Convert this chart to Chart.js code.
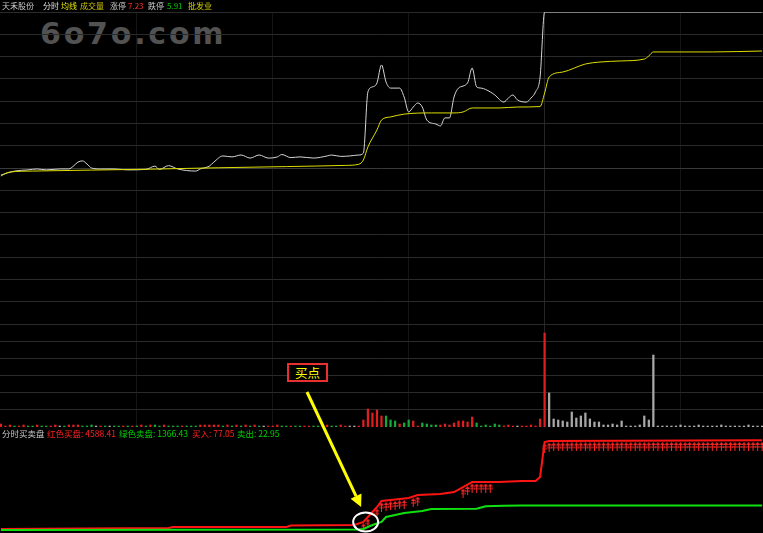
<!DOCTYPE html>
<html><head><meta charset="utf-8">
<script src="https://cdn.jsdelivr.net/npm/chart.js@4.4.1/dist/chart.umd.min.js"></script>
<style>
html,body{margin:0;padding:0;background:#000;}
#wrap{position:relative;width:763px;height:533px;overflow:hidden;background:#000;font-family:"Noto Sans CJK SC","Noto Sans",sans-serif;}
canvas{position:absolute;left:0;top:0;}
.t{position:absolute;font-size:8px;line-height:11px;white-space:nowrap;}
.b{position:absolute;font-size:8.5px;line-height:11px;white-space:nowrap;}
#wm{position:absolute;left:40px;top:19px;font-family:"DejaVu Sans",sans-serif;font-weight:bold;font-size:30px;line-height:30px;letter-spacing:2.8px;color:#525252;white-space:nowrap;}
#buyBox{position:absolute;left:287px;top:363px;width:37px;height:15px;border:2px solid #e83030;color:#ffff00;font-size:12.5px;line-height:15px;text-align:center;background:#000;}
</style></head>
<body><div id="wrap">
<div id="wm">6o7o.com</div>
<canvas id="cTop" width="763" height="533"></canvas>
<canvas id="cVol" width="763" height="533"></canvas>
<canvas id="cBS" width="763" height="533"></canvas>
<span class="t" style="left:2px;top:0;color:#c8c8c8">天禾股份</span>
<span class="t" style="left:43px;top:0;color:#e0e0e0">分时</span>
<span class="t" style="left:61px;top:0;color:#e6e600">均线</span>
<span class="t" style="left:80px;top:0;color:#c8c000">成交量</span>
<span class="t" style="left:110px;top:0;color:#c8c8c8">涨停</span>
<span class="t" style="left:128px;top:0;color:#ff3030">7.23</span>
<span class="t" style="left:148px;top:0;color:#c8c8c8">跌停</span>
<span class="t" style="left:167px;top:0;color:#00c800">5.91</span>
<span class="t" style="left:188px;top:0;color:#d8d800">批发业</span>
<span class="b" style="left:2px;top:428px;color:#c8c8c8">分时买卖盘</span>
<span class="b" style="left:47px;top:428px;color:#ff2020">红色买盘: 4588.41</span>
<span class="b" style="left:119px;top:428px;color:#00d000">绿色卖盘: 1366.43</span>
<span class="b" style="left:192px;top:428px;color:#ff2020">买入: 77.05</span>
<span class="b" style="left:237px;top:428px;color:#00d000">卖出: 22.95</span>
<div id="buyBox">买点</div>
</div>
<script>
// ---------- DATA ----------
const limitUp = 7.23, limitDown = 5.91;
const prevClose = (limitUp + limitDown) / 2;
const vGridMinutes = [30, 60, 90, 120, 150];

const priceMinutes = [0,3,6,8,10,13,15,16,17,18,19,20,22,25,28,32,34,35,37,39,43,44,46,47,49,51,53,55,57,59,61,62,64,66,69,72,73,75,77,79,80,81,82,83,84,85,86,88,89,90,91,92,93,94,96,97,98,99,100,101,103,104,105,106,108,109,111,112,113,114,116,117,118,119,120,168];
const prices = [6.540,6.557,6.562,6.566,6.562,6.566,6.566,6.578,6.595,6.600,6.587,6.570,6.566,6.566,6.562,6.564,6.578,6.564,6.580,6.566,6.557,6.566,6.578,6.595,6.621,6.617,6.625,6.612,6.625,6.612,6.617,6.627,6.614,6.617,6.612,6.621,6.625,6.619,6.621,6.625,6.633,6.892,6.913,6.930,7.006,6.934,6.908,6.908,6.870,6.807,6.828,6.845,6.828,6.773,6.756,6.748,6.782,6.782,6.870,6.908,6.930,6.993,6.913,6.908,6.892,6.879,6.849,6.866,6.879,6.858,6.849,6.866,6.892,6.955,7.230,7.230];

const avgMinutes = [0,1,2,7,33,48,63,76,79,80,81,83,84,86,89,95,100,102,104,110,114,119,120,121,124,129,132,137,142,143,144,157,168];
const avgPrices = [6.536,6.547,6.553,6.557,6.565,6.571,6.576,6.581,6.586,6.604,6.659,6.731,6.773,6.786,6.798,6.803,6.803,6.807,6.824,6.824,6.828,6.830,6.887,6.955,6.976,7.010,7.018,7.023,7.031,7.044,7.061,7.061,7.065];

// volume per minute (m0..m168) and tick direction: u = up, d = down, f = flat
const volumes = [30,10,20,10,10,20,10,10,20,10, 10,10,20,10,10,20,20,20,10,10, 20,10,10,10,10,10,10,10,10,10, 10,20,10,20,20,10,20,10,10,10, 10,10,10,10,20,20,20,20,20,10, 20,10,20,10,20,10,20,10,10,10, 10,20,10,10,10,10,10,10,10,10, 10,10,20,10,10,20,
 10,10,10,10,70,180,140,170,110,110, 70,60,30,40,70,60,10,40,30,20, 20,20,30,20,40,60,60,50,100,40, 10,20,10,30,20,10,20,10,10,10, 10,20,10,80,940,340,80,70,60,50, 150,90,110,140,80,50,50,20,20,30, 20,60,10,10,10,20,110,70,720,10, 10,10,10,10,20,10,10,10,20,10, 10,10,10,20,10,10,10,10,10,20, 10,10,10];
const volDir = ['u','u','u','d','u','u','d','d','u','d', 'd','u','u','f','d','u','u','u','d','d', 'd','f','u','d','f','d','d','u','d','u', 'd','u','d','u','d','d','u','d','d','d', 'u','d','d','d','u','u','u','u','u','d', 'u','d','u','d','u','d','u','d','f','u', 'u','u','d','d','u','d','d','u','u','d', 'd','u','u','d','d','u',
 'u','f','f','u','u','u','u','u','u','d', 'd','d','u','d','d','u','u','d','d','d', 'd','u','u','u','u','u','u','u','u','d', 'd','d','d','d','d','u','u','u','f','u', 'u','u','u','u','u','f','f','f','f','f', 'f','f','f','f','f','f','f','f','f','f', 'f','f','f','f','f','f','f','f','f','f', 'f','f','f','f','f','f','f','f','f','f', 'f','f','f','f','f','f','f','f','f','f', 'f','f','f'];

const buyMinutes = [0,37,38,63,64,78,80,81,83,84,86,90,92,97,100,102,104,110,115,118,119,120,121,168];
const buyValues = [198,248,297,297,371,396,545,792,1287,1584,1634,1733,1881,1931,2030,2277,2525,2525,2575,2575,2773,4505,4555,4588.41];
const sellMinutes = [0,79,80,81,82,84,85,87,89,91,93,95,105,107,111,115,168];
const sellValues = [149,173,198,297,396,545,792,891,990,1040,1089,1188,1200,1320,1345,1360,1366.43];

const signalMinutes = [80,81,83,84,85,86,87,88,89,91,92,102,103,104,105,106,107,108,
 120,121,122,123,124,125,126,127,128,129,130,131,132,133,134,135,136,137,138,139,140,141,142,143,144,
 145,146,147,148,149,150,151,152,153,154,155,156,157,158,159,160,161,162,163,164,165,166,167,168];

// ---------- HELPERS ----------
const W = 763, H = 533;
const xMin = -0.2, xMax = 168.2;
const zip = (xs, ys) => xs.map((x, i) => ({x, y: ys[i]}));
function interp(xs, ys, m) {
  for (let i = 0; i < xs.length - 1; i++) {
    if (m >= xs[i] && m <= xs[i + 1]) {
      const t = (m - xs[i]) / (xs[i + 1] - xs[i]);
      return ys[i] + t * (ys[i + 1] - ys[i]);
    }
  }
  return ys[ys.length - 1];
}
function xAxis(show) {
  return {
    type: 'linear', min: xMin, max: xMax, display: show, offset: false,
    ticks: {display: false}, border: {display: false},
    grid: {drawTicks: false, offset: false, color: c => (c.tick && c.tick.value === 120) ? '#262626' : '#151515'},
    afterBuildTicks: a => { a.ticks = vGridMinutes.map(v => ({value: v})); }
  };
}
const base = {
  responsive: false, animation: false, events: [],
  plugins: {legend: {display: false}, tooltip: {enabled: false}}
};
function pad(top, bottom) {
  return {autoPadding: false, padding: {top: top, bottom: bottom, left: 0, right: 0}};
}

// ---------- PRICE PANEL ----------
const priceGrid = [];
for (let k = 0; k <= 14; k++) priceGrid.push(limitDown + k * (limitUp - limitDown) / 14);

new Chart(document.getElementById('cTop'), {
  type: 'line',
  data: {datasets: [
    {data: zip(avgMinutes, avgPrices), borderColor: '#dede00', borderWidth: 1, pointRadius: 0, cubicInterpolationMode: 'monotone'},
    {data: zip(priceMinutes, prices), borderColor: '#d6d6d6', borderWidth: 1, pointRadius: 0, cubicInterpolationMode: 'monotone'}
  ]},
  options: Object.assign({}, base, {
    layout: pad(12, H - 324),
    scales: {
      x: xAxis(true),
      y: {min: limitDown, max: limitUp, display: true, ticks: {display: false}, border: {display: false},
          grid: {drawTicks: false, color: c => (c.tick && Math.abs(c.tick.value - prevClose) < 1e-6) ? '#3a3a3a' : '#2a2a2a'},
          afterBuildTicks: a => { a.ticks = priceGrid.map(v => ({value: v})); }}
    }
  })
});

// ---------- VOLUME PANEL ----------
const volMax = 1030;
const volGrid = [1, 2, 3, 4, 5, 6].map(k => k * volMax / 6);
const dirColor = {u: '#e01e1e', d: '#17a83a', f: '#a8a8a8'};
new Chart(document.getElementById('cVol'), {
  type: 'bar',
  data: {datasets: [{
    data: volumes.map((v, i) => ({x: i, y: v})),
    backgroundColor: volDir.map(d => dirColor[d]),
    barThickness: 1.6, borderWidth: 0
  }]},
  options: Object.assign({}, base, {
    layout: pad(324, H - 427),
    scales: {
      x: xAxis(true),
      y: {min: 0, max: volMax, display: true, ticks: {display: false}, border: {display: false},
          grid: {drawTicks: false, color: '#2a2a2a'},
          afterBuildTicks: a => { a.ticks = volGrid.map(v => ({value: v})); }}
    }
  })
});

// ---------- BUY / SELL PANEL ----------
const bsMax = 5100;
const arrowImg = document.createElement('canvas');
arrowImg.width = 5; arrowImg.height = 9;
(function () {
  const c = arrowImg.getContext('2d');
  c.fillStyle = '#ff2626';
  c.beginPath(); c.moveTo(2.5, 0); c.lineTo(0, 3); c.lineTo(5, 3); c.closePath(); c.fill();
  c.fillRect(2, 3, 1, 6);
  c.fillRect(0, 4.5, 5, 1);
})();
const markerOffset = 6 * bsMax / 103;

const annot = {
  id: 'annot',
  afterDraw(chart) {
    const {ctx} = chart;
    const x = chart.scales.x, y = chart.scales.y;
    const m = signalMinutes[0] + 0.5;
    const cx = x.getPixelForValue(m);
    const cy = y.getPixelForValue(interp(buyMinutes, buyValues, signalMinutes[0]));
    ctx.save();
    ctx.strokeStyle = '#ffffff'; ctx.lineWidth = 2;
    ctx.beginPath(); ctx.ellipse(cx, cy, 12.5, 9.5, 0, 0, Math.PI * 2); ctx.stroke();
    const tx = cx - 4.5, ty = cy - 15;
    const sx = 307, sy = 392;
    const dx = tx - sx, dy = ty - sy, L = Math.hypot(dx, dy);
    const ux = dx / L, uy = dy / L, px = -uy, py = ux;
    const hl = 12, hw = 6;
    const bx = tx - ux * hl, by = ty - uy * hl;
    ctx.strokeStyle = '#ffff00'; ctx.fillStyle = '#ffff00'; ctx.lineWidth = 3;
    ctx.beginPath(); ctx.moveTo(sx, sy); ctx.lineTo(bx, by); ctx.stroke();
    ctx.beginPath(); ctx.moveTo(tx, ty); ctx.lineTo(bx + px * hw, by + py * hw); ctx.lineTo(bx - px * hw, by - py * hw); ctx.closePath(); ctx.fill();
    ctx.restore();
  }
};

new Chart(document.getElementById('cBS'), {
  type: 'line',
  data: {datasets: [
    {data: zip(sellMinutes, sellValues), borderColor: '#10e010', borderWidth: 2, pointRadius: 0, tension: 0},
    {data: zip(buyMinutes, buyValues), borderColor: '#ff1414', borderWidth: 2, pointRadius: 0, tension: 0},
    {data: signalMinutes.map(m => ({x: m, y: interp(buyMinutes, buyValues, m) - markerOffset})),
     showLine: false, pointStyle: arrowImg, pointRadius: 4, borderWidth: 0}
  ]},
  options: Object.assign({}, base, {
    layout: pad(430, 0),
    scales: {
      x: xAxis(false),
      y: {min: 0, max: bsMax, display: false}
    }
  }),
  plugins: [annot]
});
</script>
</body></html>
